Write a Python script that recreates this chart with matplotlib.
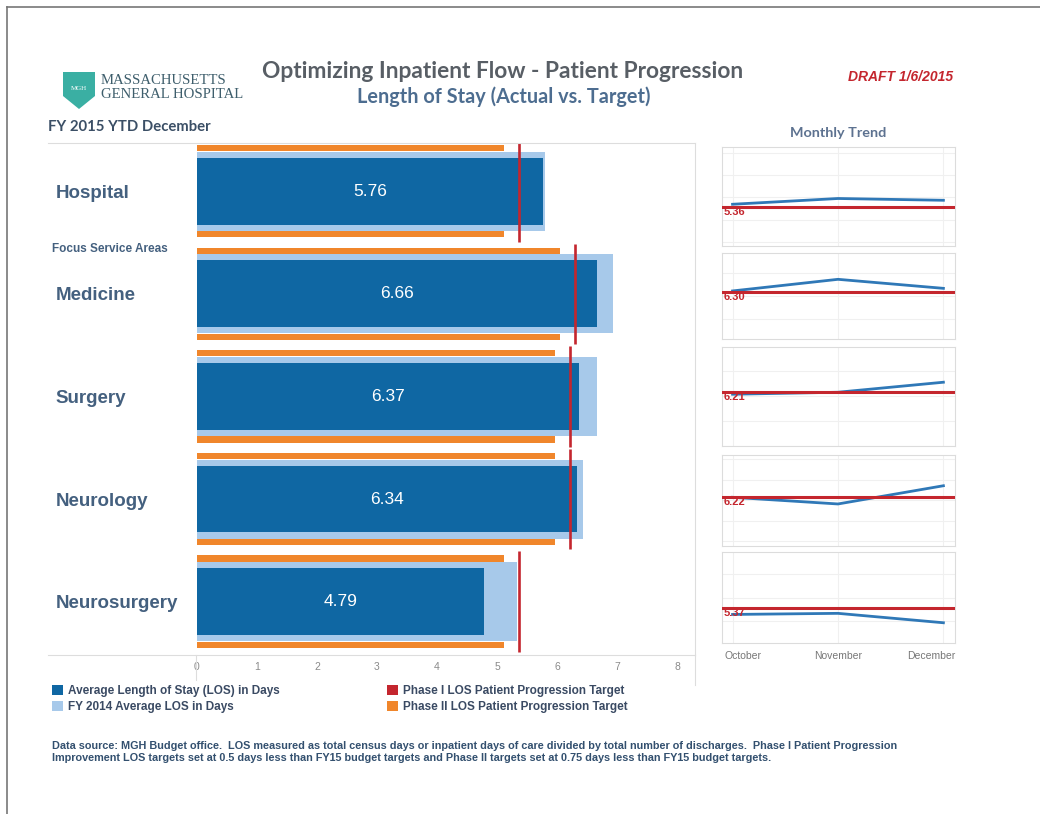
import numpy as np
import matplotlib
matplotlib.use("Agg")
import matplotlib.pyplot as plt
from matplotlib.lines import Line2D
from matplotlib.patches import Patch, Polygon
import matplotlib.transforms as mtransforms

# ---- data ----
units = ["Hospital", "Medicine", "Surgery", "Neurology", "Neurosurgery"]
los_actual = [5.76, 6.66, 6.37, 6.34, 4.79]
los_fy14 = [5.80, 6.94, 6.67, 6.44, 5.34]
phase1_target = [5.36, 6.30, 6.21, 6.22, 5.37]
phase2_target = [5.11, 6.05, 5.96, 5.97, 5.12]

months = ["October", "November", "December"]
monthly_los = [
    [5.54, 5.93, 5.81],
    [6.35, 7.11, 6.52],
    [6.09, 6.21, 6.81],
    [6.22, 5.73, 7.07],
    [4.94, 5.01, 4.41],
]
x_ticks = [0, 1, 2, 3, 4, 5, 6, 7, 8]

# ---- styles / layout ----
DARK = "#0f67a3"
LIGHT = "#a7c9ea"
ORANGE = "#f0862b"
RED = "#c4262e"
TREND_BLUE = "#2f78b7"
LABEL = "#44607f"
W, H = 1040, 814

# trend panel pixel boxes (top, bottom) and y ranges
trend_boxes = [(147, 246), (253, 339), (347, 446), (455, 546), (552, 643)]
trend_ylims = [(2.72, 9.41), (3.21, 8.83), (2.99, 8.92), (2.64, 9.33), (3.12, 8.92)]


def fx(x):
    return x / W


def fy(y):
    return 1 - y / H


def fig_line(fig, xs, ys, color="#dddddd", lw=0.8):
    fig.add_artist(Line2D([fx(v) for v in xs], [fy(v) for v in ys],
                          color=color, lw=lw, transform=fig.transFigure))


fig = plt.figure(figsize=(W / 100, H / 100), dpi=100)
fig.patch.set_facecolor("white")

# page border
fig_line(fig, [7, 7], [7, 814], color="#777777", lw=1.2)
fig_line(fig, [7, 1040], [7, 7], color="#777777", lw=1.2)

# ---- main bullet chart ----
ax = fig.add_axes([fx(197), fy(655), (695 - 197) / W, (655 - 143) / H])
ypos = np.arange(len(units))
ax.barh(ypos, los_fy14, height=0.77, color=LIGHT, zorder=1)
ax.barh(ypos, los_actual, height=0.65, color=DARK, zorder=2)
ax.barh(ypos - 0.42, phase2_target, height=0.06, color=ORANGE, zorder=2)
ax.barh(ypos + 0.42, phase2_target, height=0.06, color=ORANGE, zorder=2)
ax.vlines(phase1_target, ypos - 0.49, ypos + 0.49, color=RED, lw=1.9, zorder=3)

for y, v in zip(ypos, los_actual):
    ax.text(v / 2, y, f"{v:.2f}", color="white", fontsize=12.5,
            family="Liberation Sans", ha="center", va="center", zorder=4)

ax.set_xticks(x_ticks)
ax.set_xticklabels([str(t) for t in x_ticks], fontsize=7.5, color="#8a8a8a",
                   family="Liberation Sans")
ax.tick_params(axis="x", length=0, pad=5)
ax.set_yticks(ypos)
ax.set_yticklabels(units, fontsize=13.5, fontweight="bold", color=LABEL,
                   family="Liberation Sans")
ax.tick_params(axis="y", length=0, pad=102)
ax.set_xlim(0, 8.3)
ax.set_ylim(4.52, -0.47)
for lab in ax.get_yticklabels():
    lab.set_horizontalalignment("left")
for side in ["top", "left", "bottom"]:
    ax.spines[side].set_visible(False)
ax.spines["right"].set_color("#dddddd")
ax.spines["right"].set_linewidth(0.8)

blend = mtransforms.blended_transform_factory(fig.transFigure, ax.transData)
ax.text(fx(52), 0.565, "Focus Service Areas", transform=blend, fontsize=8.5,
        fontweight="bold", color=LABEL, family="Liberation Sans", va="center")

# panel frame lines
fig_line(fig, [48, 695], [143, 143])
fig_line(fig, [48, 695], [655, 655])
fig_line(fig, [196, 196], [655, 680])
fig_line(fig, [695, 695], [655, 685])

# ---- monthly trend panels ----
fig.text(fx(838), fy(133), "Monthly Trend", fontsize=10.4, fontweight="bold",
         color="#5d7290", family="Lato", ha="center", va="center")
mx = np.arange(len(months))
for i, ((top, bot), ylim) in enumerate(zip(trend_boxes, trend_ylims)):
    tax = fig.add_axes([fx(722), fy(bot), (955 - 722) / W, (bot - top) / H])
    tax.plot(mx, monthly_los[i], color=TREND_BLUE, lw=2, zorder=3)
    tax.axhline(phase1_target[i], color=RED, lw=2.2, zorder=4)
    tax.text(0.008, phase1_target[i], f"{phase1_target[i]:.2f}",
             transform=mtransforms.blended_transform_factory(tax.transAxes, tax.transData),
             color=RED, fontsize=8, fontweight="bold", family="Liberation Sans",
             va="top", ha="left", zorder=5)
    tax.set_yticks(np.arange(0, 12, 1.5))
    tax.set_yticklabels([])
    tax.set_xticks(mx)
    tax.set_xlim(-0.1, 2.11)
    tax.set_ylim(*ylim)
    tax.grid(True, color="#f0f0f0", lw=0.8)
    tax.tick_params(length=0)
    for s in tax.spines.values():
        s.set_color("#dcdcdc")
        s.set_linewidth(0.8)
    if i == len(trend_boxes) - 1:
        tax.set_xticklabels(months, fontsize=7.5, color="#777777",
                            family="Liberation Sans")
        tax.tick_params(axis="x", pad=6)
        labs = tax.get_xticklabels()
        labs[0].set_horizontalalignment("left")
        labs[0].set_transform(labs[0].get_transform() +
                              mtransforms.ScaledTranslation(-8 / 100, 0, fig.dpi_scale_trans))
        labs[2].set_horizontalalignment("right")
        labs[2].set_transform(labs[2].get_transform() +
                              mtransforms.ScaledTranslation(12 / 100, 0, fig.dpi_scale_trans))
    else:
        tax.set_xticklabels([])

# ---- header ----
shield = Polygon([(fx(63), fy(72)), (fx(95), fy(72)), (fx(95), fy(96)),
                  (fx(79), fy(109)), (fx(63), fy(96))], closed=True,
                 facecolor="#3aafa3", edgecolor="none", transform=fig.transFigure)
fig.add_artist(shield)
fig.text(fx(79), fy(89), "MGH", fontsize=5, color="white", ha="center",
         va="center", family="Liberation Serif")
fig.text(fx(101), fy(80), "MASSACHUSETTS", fontsize=10.6, color="#3e5e6c",
         family="Liberation Serif", va="center")
fig.text(fx(101), fy(95), "GENERAL HOSPITAL", fontsize=10.6, color="#3e5e6c",
         family="Liberation Serif", va="center")

fig.text(fx(503), fy(72), "Optimizing Inpatient Flow - Patient Progression",
         fontsize=16.4, fontweight="bold", color="#585e65", family="Lato",
         ha="center", va="center")
fig.text(fx(504), fy(97), "Length of Stay (Actual vs. Target)",
         fontsize=14.3, fontweight="bold", color="#4d6d90", family="Lato",
         ha="center", va="center")
fig.text(fx(953), fy(77), "DRAFT 1/6/2015", fontsize=10, fontweight="bold",
         style="italic", color=RED, family="Liberation Sans", ha="right", va="center")
fig.text(fx(48), fy(127), "FY 2015 YTD December", fontsize=10.7,
         fontweight="bold", color="#3b4f66", family="Lato", va="center")

# ---- legend ----
leg_font = {"family": ["Liberation Sans Narrow", "Liberation Sans"], "weight": "bold", "size": 8.5}
h1 = [Patch(facecolor=DARK, label="Average Length of Stay (LOS) in Days"),
      Patch(facecolor=LIGHT, label="FY 2014 Average LOS in Days")]
h2 = [Patch(facecolor=RED, label="Phase I LOS Patient Progression Target"),
      Patch(facecolor=ORANGE, label="Phase II LOS Patient Progression Target")]
for handles, x0 in [(h1, 46), (h2, 381)]:
    lg = fig.legend(handles=handles, loc="upper left", bbox_to_anchor=(fx(x0), fy(679)),
                    frameon=False, prop=leg_font, handlelength=0.9, handleheight=0.9,
                    handletextpad=0.5, labelspacing=0.35, borderpad=0)
    for t in lg.get_texts():
        t.set_color("#3a4a63")

# ---- footnote ----
foot = ("Data source: MGH Budget office.  LOS measured as total census days or inpatient days of care "
        "divided by total number of discharges.  Phase I Patient Progression\n"
        "Improvement LOS targets set at 0.5 days less than FY15 budget targets and Phase II targets "
        "set at 0.75 days less than FY15 budget targets.")
fig.text(fx(52), fy(741), foot, fontsize=7.8, fontweight="bold", color="#33506f",
         family=["Liberation Sans Narrow", "Liberation Sans"], va="top", linespacing=1.25)

fig.savefig("out.png", dpi=100, facecolor="white")
